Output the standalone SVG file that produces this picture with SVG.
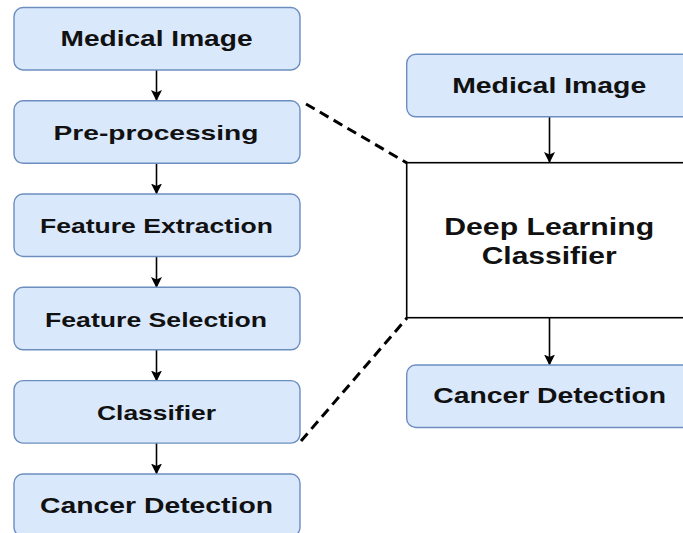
<svg xmlns="http://www.w3.org/2000/svg" width="683" height="533" viewBox="0 0 683 533">
  <defs>
    <marker id="arrow" markerWidth="11" markerHeight="11" refX="10" refY="5.5" orient="auto" markerUnits="userSpaceOnUse">
      <path d="M0,0 L11,5.5 L0,11 L2.5,5.5 Z" fill="#000"/>
    </marker>
    <style>
      .box { fill: #dae8fc; stroke: #6c8ebf; stroke-width: 1.4; }
      .dl { fill: #ffffff; stroke: #000; stroke-width: 1.6; }
      .lbl { font-family: "Liberation Sans", Arial, sans-serif; font-weight: bold; fill: #111; text-anchor: middle; }
      .edge { stroke: #000; stroke-width: 1.6; fill: none; }
      .dash { stroke: #000; stroke-width: 3; fill: none; stroke-dasharray: 10 6; }
    </style>
  </defs>
  <rect width="683" height="533" fill="#fff"/>

  <!-- connectors -->
  <g id="connectors">
    <line class="edge" x1="156.5" y1="70" x2="156.5" y2="100" marker-end="url(#arrow)"/>
    <line class="edge" x1="156.5" y1="163" x2="156.5" y2="193.5" marker-end="url(#arrow)"/>
    <line class="edge" x1="156.5" y1="256.5" x2="156.5" y2="287" marker-end="url(#arrow)"/>
    <line class="edge" x1="156.5" y1="350" x2="156.5" y2="380.5" marker-end="url(#arrow)"/>
    <line class="edge" x1="156.5" y1="443" x2="156.5" y2="473.5" marker-end="url(#arrow)"/>
    <line class="edge" x1="549.5" y1="117" x2="549.5" y2="162" marker-end="url(#arrow)"/>
    <line class="edge" x1="549.5" y1="318" x2="549.5" y2="364.5" marker-end="url(#arrow)"/>
    <line class="dash" x1="306" y1="104" x2="407" y2="163"/>
    <line class="dash" x1="301" y1="441" x2="407" y2="318"/>
  </g>

  <!-- left pipeline -->
  <g id="left-medical-image">
    <rect class="box" x="14" y="7.5" width="286" height="62.5" rx="9"/>
    <text class="lbl" x="156.5" y="46" font-size="22" textLength="192" lengthAdjust="spacingAndGlyphs">Medical Image</text>
  </g>
  <g id="left-preprocessing">
    <rect class="box" x="14" y="100.8" width="286" height="62.5" rx="9"/>
    <text class="lbl" x="156" y="139.5" font-size="21" textLength="205" lengthAdjust="spacingAndGlyphs">Pre-processing</text>
  </g>
  <g id="left-feature-extraction">
    <rect class="box" x="14" y="194" width="286" height="62.5" rx="9"/>
    <text class="lbl" x="156.5" y="233" font-size="20.5" textLength="233" lengthAdjust="spacingAndGlyphs">Feature Extraction</text>
  </g>
  <g id="left-feature-selection">
    <rect class="box" x="14" y="287.3" width="286" height="62.5" rx="9"/>
    <text class="lbl" x="156" y="326.5" font-size="20.5" textLength="222" lengthAdjust="spacingAndGlyphs">Feature Selection</text>
  </g>
  <g id="left-classifier">
    <rect class="box" x="14" y="380.6" width="286" height="62.5" rx="9"/>
    <text class="lbl" x="156.5" y="420" font-size="21" textLength="119" lengthAdjust="spacingAndGlyphs">Classifier</text>
  </g>
  <g id="left-cancer-detection">
    <rect class="box" x="14" y="474" width="286" height="62.5" rx="9"/>
    <text class="lbl" x="156.5" y="512.5" font-size="22" textLength="233" lengthAdjust="spacingAndGlyphs">Cancer Detection</text>
  </g>

  <!-- right pipeline -->
  <g id="right-medical-image">
    <rect class="box" x="406.7" y="54.3" width="286" height="62.5" rx="9"/>
    <text class="lbl" x="549.2" y="93.3" font-size="22" textLength="194" lengthAdjust="spacingAndGlyphs">Medical Image</text>
  </g>
  <g id="deep-learning-classifier">
    <rect class="dl" x="406.7" y="162.7" width="290" height="155"/>
    <text class="lbl" x="549.2" y="235" font-size="23" textLength="210" lengthAdjust="spacingAndGlyphs">Deep Learning</text>
    <text class="lbl" x="549.2" y="264" font-size="23" textLength="135" lengthAdjust="spacingAndGlyphs">Classifier</text>
  </g>
  <g id="right-cancer-detection">
    <rect class="box" x="406.7" y="365" width="286" height="62.5" rx="9"/>
    <text class="lbl" x="549.7" y="403.3" font-size="22" textLength="233" lengthAdjust="spacingAndGlyphs">Cancer Detection</text>
  </g>
</svg>
